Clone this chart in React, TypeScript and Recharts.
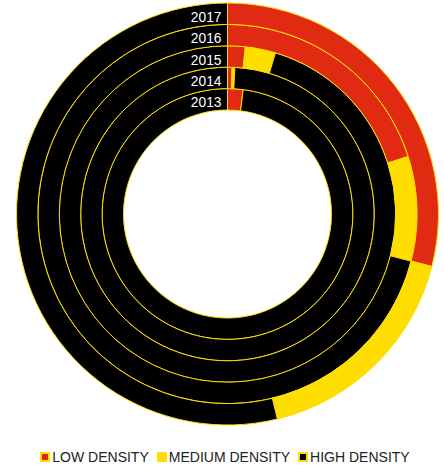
import React from "react";
import { PieChart, Pie, Cell, Legend } from "recharts";

const years = ["2013", "2014", "2015", "2016", "2017"];
const lowDensity = [2.0, 0.5, 1.7, 20.1, 29.0];
const mediumDensity = [0, 0.3, 2.9, 8.9, 17.2];
const highDensity = [98.0, 99.2, 95.4, 71.0, 53.8];

const seriesNames = ["LOW DENSITY", "MEDIUM DENSITY", "HIGH DENSITY"];
const seriesColors = ["#E02B12", "#FFDD00", "#000000"];

const RING_INNER = 104;
const RING_WIDTH = 21.4;
const CX = 227.5;
const CY = 214;
const FONT = "'Liberation Sans', Arial, sans-serif";

function YearLabel(props: any, year: string) {
  const { cx, cy, innerRadius, outerRadius, index } = props;
  if (index !== 0) return <g />;
  return (
    <text
      x={cx - 6}
      y={cy - (innerRadius + outerRadius) / 2 + 8}
      textAnchor="end"
      fill="#ffffff"
      fontSize={13.8}
      fontFamily={FONT}
    >
      {year}
    </text>
  );
}

function LegendContent() {
  return (
    <div
      style={{
        display: "flex",
        justifyContent: "center",
        paddingLeft: 14,
        fontFamily: FONT,
        fontSize: 14,
        color: "#222",
        lineHeight: "20px",
      }}
    >
      {seriesNames.map((name, i) => (
        <div key={name} style={{ display: "flex", alignItems: "center", marginRight: 8 }}>
          <span
            style={{
              display: "inline-block",
              width: 6,
              height: 6,
              background: seriesColors[i],
              border: "2px solid #FFDD00",
              marginRight: 2,
            }}
          />
          <span>{name}</span>
        </div>
      ))}
    </div>
  );
}

export default function App() {
  return (
    <div style={{ position: "absolute", left: 0, top: 0 }}>
      <PieChart width={444} height={467} margin={{ top: 0, right: 0, bottom: 0, left: 0 }}>
        {years.map((year, i) => {
          const data = [
            { name: seriesNames[0], value: lowDensity[i] },
            { name: seriesNames[1], value: mediumDensity[i] },
            { name: seriesNames[2], value: highDensity[i] },
          ];
          return (
            <Pie
              key={year}
              data={data}
              dataKey="value"
              nameKey="name"
              cx={CX}
              cy={CY}
              innerRadius={RING_INNER + i * RING_WIDTH}
              outerRadius={RING_INNER + (i + 1) * RING_WIDTH}
              startAngle={90}
              endAngle={-270}
              stroke="#FFDD00"
              strokeWidth={1}
              isAnimationActive={false}
              labelLine={false}
              label={(p: any) => YearLabel(p, year)}
            >
              {data.map((d, j) => (
                <Cell key={d.name} fill={seriesColors[j]} />
              ))}
            </Pie>
          );
        })}
        <Legend
          verticalAlign="bottom"
          wrapperStyle={{ left: 0, width: 444, bottom: 0 }}
          content={() => <LegendContent />}
        />
      </PieChart>
    </div>
  );
}
